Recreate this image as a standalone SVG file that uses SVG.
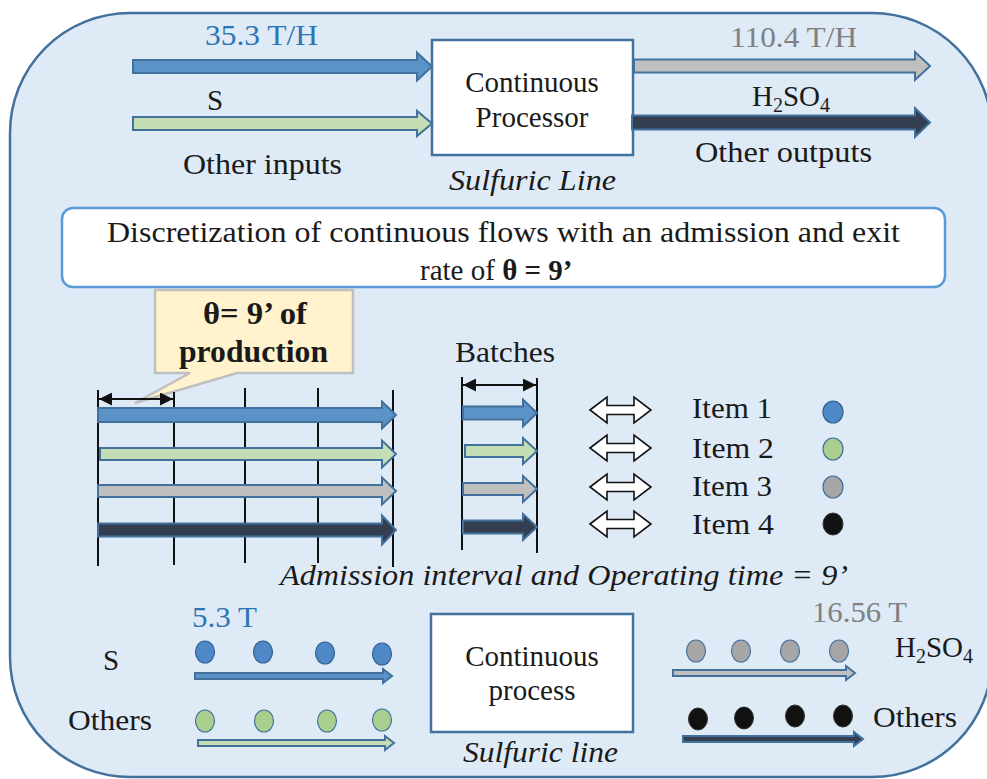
<svg xmlns="http://www.w3.org/2000/svg" width="987" height="779" viewBox="0 0 987 779">
<defs>
<style>
text{font-family:"Liberation Serif","Times New Roman",serif;fill:#1a1a1a}
.t{font-size:29px}
.it{font-style:italic}
.b{font-weight:bold}
.blue{fill:#2E75B6}
.grey{fill:#808080}
.c{text-anchor:middle}
.box{fill:#fff;stroke:#41719C;stroke-width:2.5}
.ab{fill:#5B93C9;stroke:#41719C;stroke-width:2}
.ag{fill:#C5DDB5;stroke:#41719C;stroke-width:2}
.ay{fill:#BFBFBF;stroke:#41719C;stroke-width:2}
.ad{fill:#333F50;stroke:#41719C;stroke-width:2}
.vl{stroke:#111;stroke-width:2}
.dbl{fill:#fff;stroke:#111;stroke-width:1.6}
.db{fill:#4F88C6;stroke:#2F5F8F;stroke-width:1.2}
.dg{fill:#A9CE8E;stroke:#41719C;stroke-width:1.2}
.dy{fill:#A6A6A6;stroke:#41719C;stroke-width:1.2}
.dk{fill:#111;stroke:#333;stroke-width:1}
</style>
<marker id="ah" viewBox="0 0 10 10" refX="10" refY="5" markerWidth="15" markerHeight="13" markerUnits="userSpaceOnUse" orient="auto-start-reverse">
<path d="M0,0 L10,5 L0,10 Z" fill="#111"/>
</marker>
</defs>

<g id="background">
<rect x="10" y="13" width="982" height="764" rx="120" ry="120" fill="#DEEAF6" stroke="#41719C" stroke-width="2.5"/>
</g>

<g id="processor">
<rect class="box" x="432" y="40" width="201" height="115"/>
<text class="t c" x="532" y="92">Continuous</text>
<text class="t c" x="532" y="127">Processor</text>
<text class="t it" x="449" y="190" textLength="167" lengthAdjust="spacingAndGlyphs">Sulfuric Line</text>
</g>

<g id="top-labels">
<text class="t blue" x="205" y="45" textLength="113" lengthAdjust="spacingAndGlyphs">35.3 T/H</text>
<text class="t" x="207" y="110">S</text>
<text class="t" x="183" y="174" textLength="159" lengthAdjust="spacingAndGlyphs">Other inputs</text>
<text class="t grey" x="730" y="47" textLength="127" lengthAdjust="spacingAndGlyphs">110.4 T/H</text>
<text class="t" x="752" y="106">H<tspan font-size="20" dy="6">2</tspan><tspan dy="-6">SO</tspan><tspan font-size="20" dy="6">4</tspan></text>
<text class="t" x="695" y="162" textLength="177" lengthAdjust="spacingAndGlyphs">Other outputs</text>
</g>

<g id="discretization">
<rect x="62" y="208" width="883" height="79" rx="11" ry="11" fill="#fff" stroke="#5B9BD5" stroke-width="2.5"/>
<text class="t" x="107" y="242" textLength="793" lengthAdjust="spacingAndGlyphs">Discretization of continuous flows with an admission and exit</text>
<text class="t" x="420" y="280">rate of  <tspan class="b">θ = 9’</tspan></text>
</g>

<g id="callout">
<path d="M155,290 H353 V373 H237 L135,403 L190,373 H155 Z" fill="#FFF2CC" stroke="#BFBFBF" stroke-width="2.5"/>
<text class="b" font-size="31" x="203" y="324" textLength="104" lengthAdjust="spacingAndGlyphs">θ= 9’ of</text>
<text class="b" font-size="31" x="179" y="362" textLength="149" lengthAdjust="spacingAndGlyphs">production</text>
</g>

<g id="timeline">
<line class="vl" x1="98" y1="390" x2="98" y2="566"/>
<line class="vl" x1="174" y1="392" x2="174" y2="565"/>
<line class="vl" x1="245" y1="388" x2="245" y2="563"/>
<line class="vl" x1="318" y1="388" x2="318" y2="563"/>
<line class="vl" x1="393" y1="390" x2="393" y2="567"/>
<path class="ab" d="M98,408 H382 V401.5 L396,415 L382,428.5 V422 H98 Z"/>
<path class="ag" d="M100,448 H382 V440.5 L396,454 L382,467.5 V460 H100 Z"/>
<path class="ay" d="M98,485 H382 V477.5 L396,491 L382,504.5 V497 H98 Z"/>
<path class="ad" d="M98,523.5 H382 V515.5 L396,530 L382,544.5 V536.5 H98 Z"/>
</g>

<g id="batches">
<text class="t" x="455" y="362" textLength="100" lengthAdjust="spacingAndGlyphs">Batches</text>
<line class="vl" x1="462" y1="377" x2="462" y2="550"/>
<line class="vl" x1="537" y1="378" x2="537" y2="553"/>
<path class="ab" d="M463,406.5 H523 V399.5 L537,413 L523,426.5 V419.5 H463 Z"/>
<path class="ag" d="M465,445 H523 V438 L537,451 L523,464 V457 H465 Z"/>
<path class="ay" d="M463,483 H523 V476 L537,489 L523,502 V495 H463 Z"/>
<path class="ad" d="M463,520.5 H523 V514 L537,527 L523,540 V533.5 H463 Z"/>
</g>

<g id="items">
<path class="dbl" d="M590,410 L607,397 V405.5 H634 V397 L651,410 L634,423 V414.5 H607 V423 Z"/>
<path class="dbl" d="M590,448 L607,435 V443.5 H634 V435 L651,448 L634,461 V452.5 H607 V461 Z"/>
<path class="dbl" d="M590,487 L607,474 V482.5 H634 V474 L651,487 L634,500 V491.5 H607 V500 Z"/>
<path class="dbl" d="M590,524 L607,511 V519.5 H634 V511 L651,524 L634,537 V528.5 H607 V537 Z"/>
<text class="t" x="692" y="418" textLength="80" lengthAdjust="spacingAndGlyphs">Item 1</text>
<text class="t" x="692" y="458" textLength="82" lengthAdjust="spacingAndGlyphs">Item 2</text>
<text class="t" x="692" y="496" textLength="80" lengthAdjust="spacingAndGlyphs">Item 3</text>
<text class="t" x="692" y="534" textLength="82" lengthAdjust="spacingAndGlyphs">Item 4</text>
<ellipse class="db" cx="833" cy="412" rx="10" ry="11"/>
<ellipse class="dg" cx="833" cy="449" rx="10" ry="11"/>
<ellipse class="dy" cx="833" cy="487" rx="10" ry="11"/>
<ellipse class="dk" cx="833" cy="524" rx="10" ry="11"/>
</g>

<g id="connectors">
<line x1="99" y1="399" x2="173" y2="399" stroke="#111" stroke-width="1.8" marker-start="url(#ah)" marker-end="url(#ah)"/>
<line x1="463" y1="385" x2="536" y2="385" stroke="#111" stroke-width="1.8" marker-start="url(#ah)" marker-end="url(#ah)"/>
<path class="ab" d="M133,60 H417 V52.5 L432,66.5 L417,80.5 V73 H133 Z"/>
<path class="ag" d="M133,117 H417 V111 L432,123.5 L417,136 V130 H133 Z"/>
<path class="ay" d="M634,59.5 H915 V52 L930,66 L915,80 V72.5 H634 Z"/>
<path class="ad" d="M632,115.5 H915 V108 L930,122.5 L915,137 V129.5 H632 Z"/>
<path class="ab" d="M195,673 H383 V669 L392,676 L383,683 V679 H195 Z" stroke-width="1.5"/>
<path class="ag" d="M198,740 H385 V736 L394,743 L385,750 V746 H198 Z" stroke-width="1.5"/>
<path class="ay" d="M673,670 H846 V666 L855,673 L846,680 V676 H673 Z" stroke-width="1.5"/>
<path class="ad" d="M683,736 H854 V732 L863,739 L854,746 V742 H683 Z" stroke-width="1.5"/>
</g>

<g id="caption">
<text class="t it" x="280" y="585" textLength="568" lengthAdjust="spacingAndGlyphs">Admission interval and Operating time = 9’</text>
</g>

<g id="process">
<rect class="box" x="431" y="614" width="202" height="118"/>
<text class="t c" x="532" y="666">Continuous</text>
<text class="t c" x="532" y="700">process</text>
<text class="t it" x="463" y="762" textLength="155" lengthAdjust="spacingAndGlyphs">Sulfuric line</text>
</g>

<g id="inputs">
<text class="t blue" x="192" y="627" textLength="65" lengthAdjust="spacingAndGlyphs">5.3 T</text>
<text class="t" x="103" y="670">S</text>
<text class="t" x="68" y="730" textLength="84" lengthAdjust="spacingAndGlyphs">Others</text>
<ellipse class="db" cx="205" cy="652" rx="9.5" ry="11"/>
<ellipse class="db" cx="263" cy="652" rx="9.5" ry="11"/>
<ellipse class="db" cx="325" cy="653" rx="9.5" ry="11"/>
<ellipse class="db" cx="382" cy="654" rx="9.5" ry="11"/>
<ellipse class="dg" cx="205" cy="721" rx="9.5" ry="11"/>
<ellipse class="dg" cx="264" cy="721" rx="9.5" ry="11"/>
<ellipse class="dg" cx="327" cy="721" rx="9.5" ry="11"/>
<ellipse class="dg" cx="382" cy="720" rx="9.5" ry="11"/>
</g>

<g id="outputs">
<text class="t grey" x="812" y="622" textLength="95" lengthAdjust="spacingAndGlyphs">16.56 T</text>
<text class="t" x="895" y="657">H<tspan font-size="20" dy="6">2</tspan><tspan dy="-6">SO</tspan><tspan font-size="20" dy="6">4</tspan></text>
<text class="t" x="873" y="727" textLength="84" lengthAdjust="spacingAndGlyphs">Others</text>
<ellipse class="dy" cx="696" cy="651" rx="9.5" ry="11"/>
<ellipse class="dy" cx="741" cy="651" rx="9.5" ry="11"/>
<ellipse class="dy" cx="790" cy="651" rx="9.5" ry="11"/>
<ellipse class="dy" cx="839" cy="651" rx="9.5" ry="11"/>
<ellipse class="dk" cx="698" cy="719" rx="9.5" ry="11"/>
<ellipse class="dk" cx="744" cy="718" rx="9.5" ry="11"/>
<ellipse class="dk" cx="795" cy="716" rx="9.5" ry="11"/>
<ellipse class="dk" cx="843" cy="716" rx="9.5" ry="11"/>
</g>
</svg>
